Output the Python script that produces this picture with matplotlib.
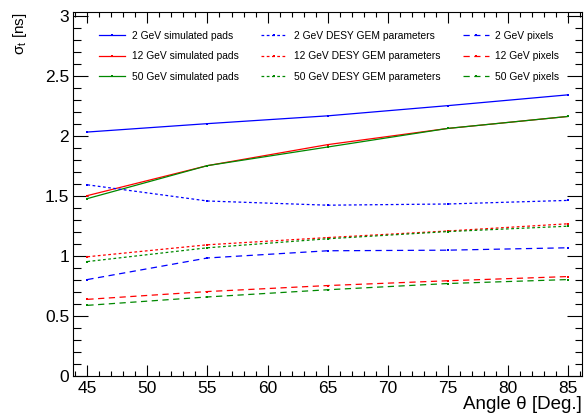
import numpy as np
import matplotlib
matplotlib.use("Agg")
import matplotlib.pyplot as plt
from matplotlib.ticker import MultipleLocator

plt.rcParams['font.family'] = ['Liberation Sans', 'DejaVu Sans']
plt.rcParams['mathtext.fontset'] = 'custom'
plt.rcParams['mathtext.rm'] = 'Liberation Sans'
plt.rcParams['mathtext.it'] = 'Liberation Sans'
plt.rcParams['mathtext.default'] = 'regular'

# angles in degrees
angles = [45, 55, 65, 75, 85]

# simulated pads
pads_2 = [2.03, 2.10, 2.165, 2.25, 2.34]
pads_12 = [1.50, 1.75, 1.925, 2.06, 2.16]
pads_50 = [1.475, 1.75, 1.905, 2.06, 2.16]

# DESY GEM parameters
desy_2 = [1.59, 1.455, 1.42, 1.43, 1.46]
desy_12 = [0.99, 1.09, 1.15, 1.205, 1.265]
desy_50 = [0.95, 1.065, 1.14, 1.20, 1.245]

# pixels
pix_2 = [0.80, 0.98, 1.04, 1.045, 1.065]
pix_12 = [0.635, 0.70, 0.75, 0.79, 0.825]
pix_50 = [0.585, 0.655, 0.715, 0.767, 0.80]

energies = ['2', '12', '50']
colors = ['#0000ff', '#ff0000', '#008800']

fig = plt.figure(figsize=(5.84, 4.17), dpi=100)
ax = fig.add_axes([0.1255, 0.0995, 0.871, 0.8715])

dotted = (0, (2.2, 2.0))
dashed = (0, (5.0, 3.6))

handles = []
for e, c, s in zip(energies, colors, [pads_2, pads_12, pads_50]):
    h, = ax.plot(angles, s, color=c, lw=0.9, marker='s', ms=1.5, mew=0,
                 label=f'{e} GeV simulated pads')
    handles.append(h)
for e, c, s in zip(energies, colors, [desy_2, desy_12, desy_50]):
    h, = ax.plot(angles, s, color=c, lw=0.9, ls=dotted, marker='s', ms=1.5, mew=0,
                 label=f'{e} GeV DESY GEM parameters')
    handles.append(h)
for e, c, s in zip(energies, colors, [pix_2, pix_12, pix_50]):
    h, = ax.plot(angles, s, color=c, lw=0.9, ls=dashed, marker='s', ms=1.5, mew=0,
                 label=f'{e} GeV pixels')
    handles.append(h)

ax.set_xlim(43.83, 86.17)
ax.set_ylim(0, 3.03)
ax.xaxis.set_major_locator(MultipleLocator(5))
ax.xaxis.set_minor_locator(MultipleLocator(1))
ax.yaxis.set_major_locator(MultipleLocator(0.5))
ax.yaxis.set_minor_locator(MultipleLocator(0.1))
ax.yaxis.set_major_formatter(plt.FuncFormatter(lambda v, p: f'{v:g}'))

ax.tick_params(axis='both', which='both', direction='in', top=True, right=True,
               labelsize=12.5, width=0.8)
ax.tick_params(axis='y', which='major', length=10.8, pad=3)
ax.tick_params(axis='y', which='minor', length=5.4)
ax.tick_params(axis='x', which='major', length=7.9, pad=4)
ax.tick_params(axis='x', which='minor', length=3.9)
for sp in ax.spines.values():
    sp.set_linewidth(0.8)

ax.set_xlabel(r'Angle θ [Deg.]', fontsize=13.5, loc='right', labelpad=0)
ax.set_ylabel(r'$\sigma_{t}$ [ns]', fontsize=11, loc='top', labelpad=11)

ax.legend(handles=handles, ncol=3, loc='upper left', bbox_to_anchor=(0.041, 0.963),
          frameon=False, fontsize=7.4, handlelength=2.55, handletextpad=0.6,
          columnspacing=2.2, labelspacing=1.02, borderpad=0.0)

fig.savefig('out.png', dpi=100)
